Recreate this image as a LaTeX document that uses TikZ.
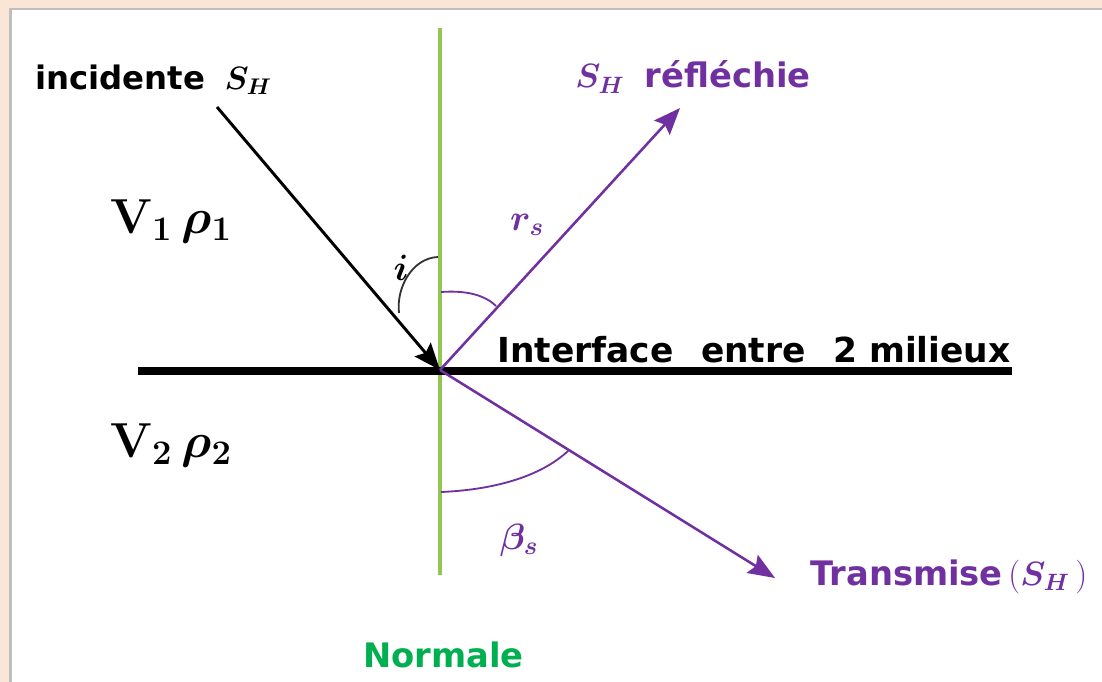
\RequirePackage{fix-cm}
\documentclass[tikz,border=0pt]{standalone}
\usepackage[no-math]{fontspec}
\setmainfont{DejaVu Sans}
\usepackage{bm}
\usepackage{xcolor}
\usepackage{tikz}
\usetikzlibrary{positioning,arrows.meta}

\definecolor{fond}{HTML}{FBE5D6}
\definecolor{onde}{HTML}{7030A0}
\definecolor{normale}{HTML}{92C552}
\definecolor{vertnom}{HTML}{00B050}

\begin{document}
\begin{tikzpicture}[x=0.025cm, y=-0.025cm,
    txt/.style={font=\fontsize{24}{28}\selectfont\bfseries\boldmath, inner sep=0pt, anchor=base west},
    milieu/.style={font=\fontsize{35}{40}\selectfont\boldmath, inner sep=0pt, anchor=base west},
    angl/.style={font=\fontsize{26}{30}\selectfont\boldmath, inner sep=0pt},
    rayon/.style={line width=1.8pt, onde, -{Stealth[length=19pt,width=15pt,inset=3pt]}},
    arcangle/.style={line width=1.3pt}]

  % Frame
  \useasboundingbox (0,0) rectangle (1102,682);
  \fill[fond] (0,0) rectangle (1102,682);
  \fill[black!25] (9,8.5) rectangle (1102,682);
  \fill[white] (11.5,10) rectangle (1102,682);

  % Points
  \coordinate (O) at (440,370);
  \coordinate (inc) at (217,107);
  \coordinate (refl) at (680,108);
  \coordinate (trans) at (775,578);
  \coordinate (Nhaut) at (440,28);
  \coordinate (Nbas) at (440,575);
  \coordinate (Igauche) at (138,371);
  \coordinate (Idroite) at (1012,371);

  % Normal and interface
  \draw[normale, line width=2.8pt] (Nhaut) -- (Nbas);
  \draw[black, line width=5pt] (Igauche) -- (Idroite);

  % Rays
  \draw[line width=2.1pt, black, -{Stealth[length=19pt,width=15pt,inset=3pt]}] (inc) -- (O);
  \draw[rayon] (O) -- (refl);
  \draw[rayon] (O) -- (trans);

  % Angles
  \draw[arcangle, black!80] (438,257) .. controls (412,258) and (396,288) .. (399,313);
  \draw[arcangle, onde] (441,292) .. controls (468,290) and (486,296) .. (496,306);
  \draw[arcangle, onde] (441,492) .. controls (490,490) and (540,478) .. (569,450);

  % Angle labels
  \node[angl] (ang i) at (401,268) {$i$};
  \node[angl, onde] (ang r) at (527,225) {$r_s$};
  \node[angl, onde] (ang b) at (519,540) {$\beta_s$};

  % Labels
  \node[txt, font=\fontsize{23}{27}\selectfont\bfseries\boldmath] (incid) at (35,90) {incidente\hspace{0.6em}$S_H$};
  \node[txt, onde] (reflechie) at (575,88) {$S_H$\hspace{0.6em}réfléchie};
  \node[txt, onde] (transmise) at (810,585) {Transmise\,{\mdseries\unboldmath$(\bm{S_H}\,)$}};
  \node[txt, font=\fontsize{24.5}{28}\selectfont\bfseries] (interface) at (497,362) {Interface\hspace{0.8em}entre\hspace{0.8em}2 milieux};
  \node[txt, vertnom] (normale) at (363,667) {Normale};
  \foreach \y/\k in {233/1, 457/2}
    \node[milieu] (milieu\k) at (110,\y) {$\mathbf{V}_{\k}\,\rho_{\k}$};

\end{tikzpicture}
\end{document}
